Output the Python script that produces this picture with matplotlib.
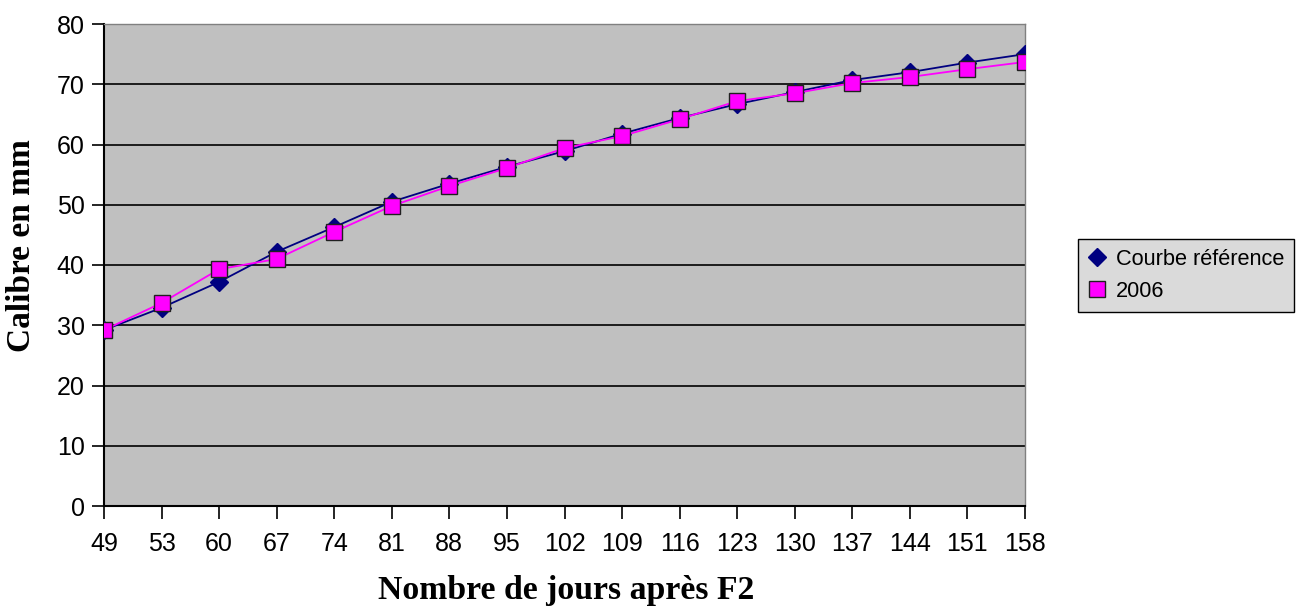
import matplotlib
matplotlib.use("Agg")

import matplotlib.pyplot as plt

# data
days = ["49", "53", "60", "67", "74", "81", "88", "95", "102",
        "109", "116", "123", "130", "137", "144", "151", "158"]
reference = [29.2, 32.9, 37.2, 42.2, 46.3, 50.5, 53.5, 56.3, 58.9,
             61.8, 64.4, 66.7, 68.7, 70.7, 72.0, 73.6, 75.0]
year_2006 = [29.2, 33.7, 39.3, 41.0, 45.5, 49.8, 53.1, 56.1, 59.4,
             61.4, 64.2, 67.2, 68.5, 70.2, 71.2, 72.5, 73.7]
yticks = [0, 10, 20, 30, 40, 50, 60, 70, 80]

W, H = 1297, 609
fig = plt.figure(figsize=(W / 100, H / 100), dpi=100)
fig.patch.set_facecolor("white")
ax = fig.add_axes([104 / W, 1 - 506 / H, (1025 - 104) / W, (506 - 24) / H])
ax.set_facecolor("#c0c0c0")

x = list(range(len(days)))
ax.plot(x, reference, "-", color="#000080", lw=1.3, marker="D", ms=9.5,
        mfc="#000080", mec="#000080", label="Courbe référence", zorder=3)
ax.plot(x, year_2006, "-", color="#ff00ff", lw=1.3, marker="s", ms=11.5,
        mfc="#ff00ff", mec="#202020", mew=1.0, label="2006", zorder=4)

ax.set_xlim(0, len(days) - 1)
ax.set_ylim(0, 80)
ax.set_yticks(yticks)
ax.set_xticks(x)
ax.set_xticklabels(days)
ax.yaxis.grid(True, color="black", lw=1.2)
ax.set_axisbelow(True)

for side in ("top", "right"):
    ax.spines[side].set_color("#808080")
    ax.spines[side].set_linewidth(1.0)
for side in ("left", "bottom"):
    ax.spines[side].set_color("black")
    ax.spines[side].set_linewidth(1.5)

ax.tick_params(axis="both", direction="out", length=9, width=1.2, color="black",
               labelsize=18, pad=5)
ax.tick_params(axis="x", pad=10)
for lab in ax.get_xticklabels() + ax.get_yticklabels():
    lab.set_fontfamily("Liberation Sans")

fig.text(22 / W, 1 - 246 / H, "Calibre en mm", rotation=90, ha="center", va="center",
         fontsize=24, fontweight="bold", family="Liberation Serif")
fig.text(566 / W, 1 - 591 / H, "Nombre de jours après F2", ha="center", va="center",
         fontsize=24.3, fontweight="bold", family="Liberation Serif")

leg = fig.legend(loc="upper left", bbox_to_anchor=(1078 / W, 1 - 239 / H),
                 frameon=True, fancybox=False, prop={"family": "Liberation Sans", "size": 15.7},
                 handlelength=0.8, handletextpad=0.5, borderpad=0.45, labelspacing=0.5,
                 borderaxespad=0)
leg.get_frame().set_facecolor("#dadada")
leg.get_frame().set_edgecolor("black")
leg.get_frame().set_linewidth(1.0)
leg.get_frame().set_alpha(1)
for h in leg.legend_handles:
    h.set_linestyle("none")
leg.legend_handles[0].set_markersize(9)
leg.legend_handles[1].set_markersize(11)

fig.savefig("out.png", dpi=100)
